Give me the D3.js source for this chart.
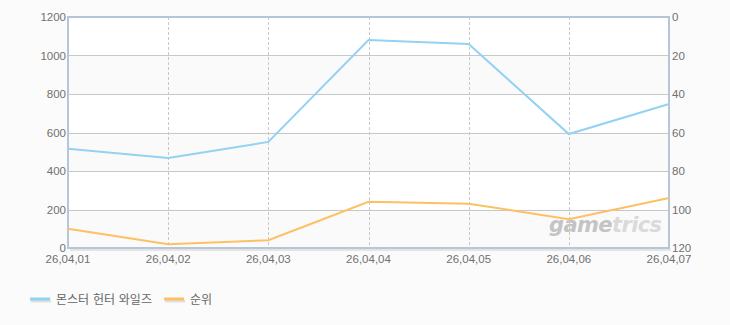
<!DOCTYPE html>
<html>
<head>
<meta charset="utf-8">
<script src="https://cdn.jsdelivr.net/npm/d3@7"></script>
<style>
  body { margin: 0; background: #fbfbfb; }
  text { font-family: "Liberation Sans", "Noto Sans CJK KR", sans-serif; }
  text.kr { font-family: "DejaVu Sans", "Noto Sans CJK KR", sans-serif; }
</style>
</head>
<body>
<div id="chart"></div>
<script>
// data
var dates = ["26,04,01", "26,04,02", "26,04,03", "26,04,04", "26,04,05", "26,04,06", "26,04,07"];
var players = [515, 468, 551, 1080, 1060, 592, 748];
var ranks = [110, 118, 116, 96, 97, 105, 94];
var leftTicks = [0, 200, 400, 600, 800, 1000, 1200];
var rightTicks = [0, 20, 40, 60, 80, 100, 120];
var seriesNames = ["몬스터 헌터 와일즈", "순위"];
var seriesColors = ["#92d2f2", "#fdc064"];

var W = 730, H = 325;
var plotL = 68, plotR = 669, plotT = 17, plotB = 248;

var svg = d3.select("#chart").append("svg")
  .attr("width", W)
  .attr("height", H);

var x = d3.scalePoint().domain(dates).range([plotL, plotR]);
var yL = d3.scaleLinear().domain([0, 1200]).range([plotB, plotT]);
var yR = d3.scaleLinear().domain([0, 120]).range([plotT, plotB]);

// plot background
svg.append("rect")
  .attr("x", plotL).attr("y", plotT)
  .attr("width", plotR - plotL).attr("height", plotB - plotT)
  .attr("fill", "#ffffff");

// alternating bands
svg.selectAll("rect.band")
  .data([0, 400, 800])
  .enter().append("rect")
    .attr("class", "band")
    .attr("x", plotL)
    .attr("y", function(d){ return yL(d + 200); })
    .attr("width", plotR - plotL)
    .attr("height", function(d){ return yL(d) - yL(d + 200); })
    .attr("fill", "#fafafa");

// horizontal grid
svg.selectAll("line.hgrid")
  .data(leftTicks.slice(1, -1))
  .enter().append("line")
    .attr("x1", plotL).attr("x2", plotR)
    .attr("y1", function(d){ return Math.round(yL(d)) + 0.5; })
    .attr("y2", function(d){ return Math.round(yL(d)) + 0.5; })
    .attr("stroke", "#c8c8c8");

// vertical dashed grid
svg.selectAll("line.vgrid")
  .data(dates.slice(1, -1))
  .enter().append("line")
    .attr("x1", function(d){ return Math.round(x(d)) + 0.5; })
    .attr("x2", function(d){ return Math.round(x(d)) + 0.5; })
    .attr("y1", plotT).attr("y2", plotB)
    .attr("stroke", "#c8c8c8")
    .attr("stroke-dasharray", "3,2");

// watermark
var wm = svg.append("text")
  .attr("class", "kr")
  .attr("x", 549).attr("y", 232)
  .attr("font-size", 21)
  .attr("font-weight", "bold")
  .attr("font-style", "italic")
  .attr("letter-spacing", -0.6);
wm.append("tspan").attr("fill", "#c4c4c4").text("game");
wm.append("tspan").attr("fill", "#dadada").text("trics");

// frame: shadow + axes
svg.append("line")
  .attr("x1", plotL + 2).attr("x2", plotR + 2)
  .attr("y1", plotB + 2).attr("y2", plotB + 2)
  .attr("stroke", "#e4e4e4").attr("stroke-width", 2);
svg.append("rect")
  .attr("x", plotL).attr("y", plotT)
  .attr("width", plotR - plotL).attr("height", plotB - plotT)
  .attr("fill", "none")
  .attr("stroke", "#b4c6d8")
  .attr("stroke-width", 2);

// lines
var lineL = d3.line()
  .x(function(d, i){ return x(dates[i]); })
  .y(function(d){ return yL(d); });
var lineR = d3.line()
  .x(function(d, i){ return x(dates[i]); })
  .y(function(d){ return yR(d); });

svg.append("path")
  .datum(players)
  .attr("d", lineL)
  .attr("fill", "none")
  .attr("stroke", seriesColors[0])
  .attr("stroke-width", 2);

svg.append("path")
  .datum(ranks)
  .attr("d", lineR)
  .attr("fill", "none")
  .attr("stroke", seriesColors[1])
  .attr("stroke-width", 2);

// left axis labels
svg.selectAll("text.yl")
  .data(leftTicks)
  .enter().append("text")
    .attr("x", plotL - 2)
    .attr("y", function(d){ return yL(d) + 4; })
    .attr("text-anchor", "end")
    .attr("font-size", 11.5)
    .attr("fill", "#707070")
    .text(function(d){ return d; });

// right axis labels
svg.selectAll("text.yr")
  .data(rightTicks)
  .enter().append("text")
    .attr("x", plotR + 3)
    .attr("y", function(d){ return yR(d) + 4; })
    .attr("font-size", 11.5)
    .attr("fill", "#707070")
    .text(function(d){ return d; });

// x labels
svg.selectAll("text.xl")
  .data(dates)
  .enter().append("text")
    .attr("x", function(d){ return x(d); })
    .attr("y", plotB + 15)
    .attr("text-anchor", "middle")
    .attr("font-size", 11.5)
    .attr("fill", "#707070")
    .text(function(d){ return d; });

// legend
var legendX = [30, 164];
seriesNames.forEach(function(name, i){
  var g = svg.append("g").attr("transform", "translate(" + legendX[i] + ",299)");
  g.append("line").attr("x1", 1).attr("x2", 21).attr("y1", 2).attr("y2", 2)
    .attr("stroke", "#e0e0e0").attr("stroke-width", 3);
  g.append("line").attr("x1", 0).attr("x2", 20).attr("y1", 0).attr("y2", 0)
    .attr("stroke", seriesColors[i]).attr("stroke-width", 3);
  g.append("text").attr("class", "kr").attr("x", 26).attr("y", 5)
    .attr("font-size", 12)
    .attr("fill", "#666")
    .text(name);
});
</script>
</body>
</html>
